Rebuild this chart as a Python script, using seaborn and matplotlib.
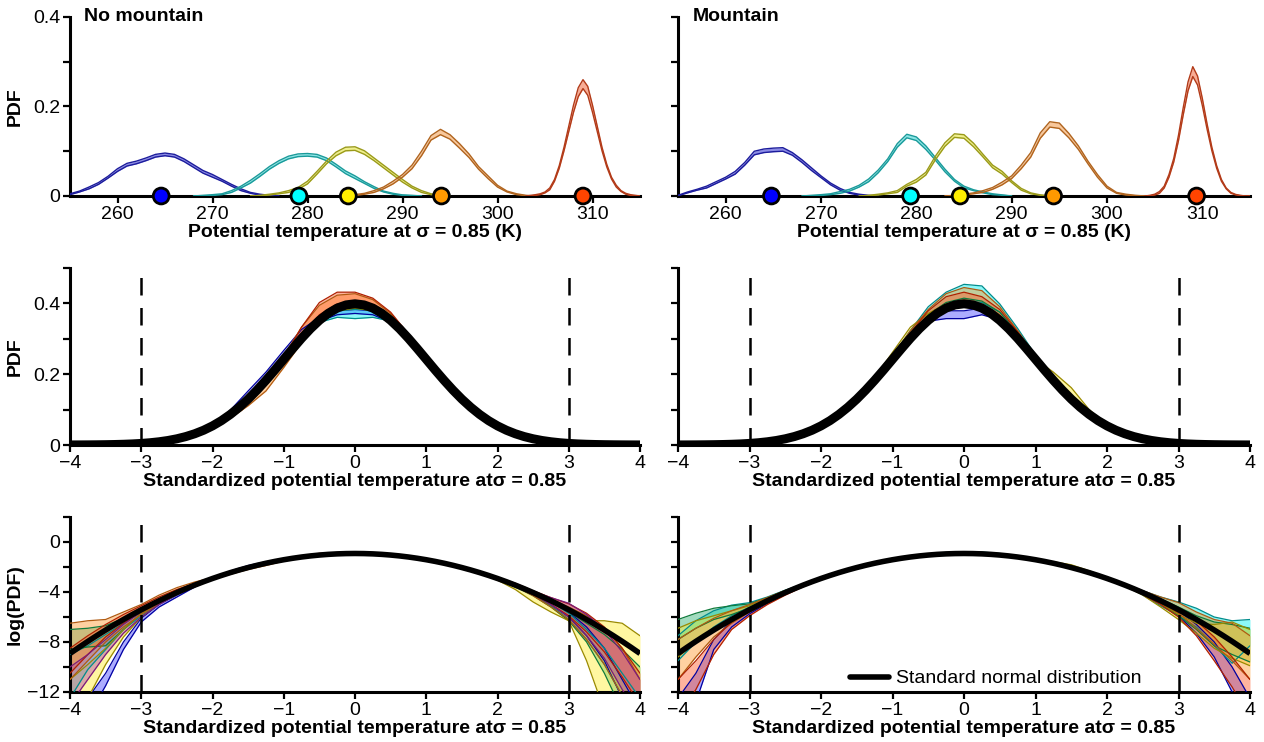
import numpy as np
import pandas as pd
import matplotlib
matplotlib.use("Agg")
import matplotlib.pyplot as plt
from matplotlib.lines import Line2D
import seaborn as sns

sns.set_theme(style="ticks")
plt.rcParams['font.family'] = ['Liberation Sans', 'DejaVu Sans']
plt.rcParams['axes.unicode_minus'] = True
plt.rcParams['text.color'] = 'black'
plt.rcParams['axes.labelcolor'] = 'black'
plt.rcParams['xtick.color'] = 'black'
plt.rcParams['ytick.color'] = 'black'

# ------------------------------------------------------------------ top panels (PDF of theta)
# No mountain
NM_BLUE_T = [255, 256, 257, 258, 259, 260, 261, 262, 263, 264, 265, 266, 267, 268, 269, 270, 271, 272, 273, 274, 275, 276, 277]
NM_BLUE_P = [0.004, 0.010, 0.018, 0.028, 0.042, 0.058, 0.070, 0.075, 0.082, 0.090, 0.093, 0.090, 0.080, 0.067, 0.054, 0.045, 0.035, 0.024, 0.014, 0.007, 0.003, 0.001, 0.0]
NM_BLUE_W = [0.001, 0.001, 0.002, 0.002, 0.002, 0.003, 0.003, 0.003, 0.003, 0.003, 0.003, 0.003, 0.003, 0.003, 0.003, 0.003, 0.002, 0.002, 0.002, 0.001, 0.001, 0.0005, 0.0]

NM_CYAN_T = [268, 269, 270, 271, 272, 273, 274, 275, 276, 277, 278, 279, 280, 281, 282, 283, 284, 285, 286, 287, 288, 289, 290, 291, 292]
NM_CYAN_P = [0.0, 0.001, 0.002, 0.004, 0.010, 0.020, 0.032, 0.047, 0.063, 0.076, 0.086, 0.091, 0.092, 0.090, 0.082, 0.068, 0.053, 0.042, 0.030, 0.019, 0.010, 0.005, 0.002, 0.001, 0.0]
NM_CYAN_W = [0.0, 0.0005, 0.001, 0.001, 0.002, 0.002, 0.003, 0.003, 0.003, 0.003, 0.003, 0.003, 0.003, 0.003, 0.003, 0.003, 0.003, 0.003, 0.002, 0.002, 0.001, 0.001, 0.0005, 0.0005, 0.0]

NM_YELL_T = [274, 275, 276, 277, 278, 279, 280, 281, 282, 283, 284, 285, 286, 287, 288, 289, 290, 291, 292, 293, 294, 295]
NM_YELL_P = [0.0, 0.001, 0.003, 0.006, 0.010, 0.017, 0.030, 0.052, 0.075, 0.094, 0.105, 0.106, 0.097, 0.082, 0.066, 0.050, 0.034, 0.020, 0.010, 0.004, 0.001, 0.0]
NM_YELL_W = [0.0, 0.0005, 0.001, 0.001, 0.002, 0.002, 0.003, 0.003, 0.003, 0.004, 0.004, 0.004, 0.004, 0.003, 0.003, 0.003, 0.003, 0.002, 0.002, 0.001, 0.0005, 0.0]

NM_ORAN_T = [284, 285, 286, 287, 288, 289, 290, 291, 292, 293, 294, 295, 296, 297, 298, 299, 300, 301, 302, 303, 304]
NM_ORAN_P = [0.0, 0.002, 0.005, 0.010, 0.018, 0.030, 0.045, 0.065, 0.095, 0.130, 0.143, 0.132, 0.112, 0.090, 0.063, 0.042, 0.022, 0.010, 0.004, 0.001, 0.0]
NM_ORAN_W = [0.0, 0.001, 0.001, 0.002, 0.002, 0.003, 0.003, 0.004, 0.005, 0.005, 0.006, 0.005, 0.005, 0.004, 0.003, 0.003, 0.002, 0.001, 0.001, 0.0005, 0.0]

NM_RED_T = [303, 303.5, 304, 304.5, 305, 305.5, 306, 306.5, 307, 307.5, 308, 308.5, 309, 309.5, 310, 310.5, 311, 311.5, 312, 312.5, 313, 313.5, 314, 314.5, 315]
NM_RED_P = [0.0, 0.001, 0.002, 0.004, 0.008, 0.016, 0.035, 0.065, 0.105, 0.150, 0.195, 0.232, 0.250, 0.235, 0.195, 0.150, 0.105, 0.068, 0.040, 0.022, 0.011, 0.005, 0.002, 0.001, 0.0]
NM_RED_W = [0.0, 0.0005, 0.001, 0.001, 0.001, 0.002, 0.002, 0.003, 0.004, 0.006, 0.008, 0.010, 0.010, 0.010, 0.008, 0.006, 0.004, 0.003, 0.002, 0.002, 0.001, 0.001, 0.001, 0.0005, 0.0]

NM_MEANS = [264.6, 279.1, 284.3, 294.1, 309.0]

# Mountain
MT_BLUE_T = [255, 256, 257, 258, 259, 260, 261, 262, 263, 264, 265, 266, 267, 268, 269, 270, 271, 272, 273, 274, 275, 276]
MT_BLUE_P = [0.001, 0.008, 0.014, 0.020, 0.030, 0.040, 0.052, 0.072, 0.096, 0.101, 0.103, 0.104, 0.094, 0.078, 0.060, 0.043, 0.027, 0.015, 0.007, 0.003, 0.001, 0.0]
MT_BLUE_W = [0.0005, 0.001, 0.001, 0.002, 0.002, 0.002, 0.003, 0.003, 0.004, 0.004, 0.004, 0.004, 0.003, 0.003, 0.003, 0.002, 0.002, 0.002, 0.001, 0.001, 0.0005, 0.0]

MT_CYAN_T = [268, 269, 270, 271, 272, 273, 274, 275, 276, 277, 278, 279, 280, 281, 282, 283, 284, 285, 286, 287, 288, 289, 290]
MT_CYAN_P = [0.0, 0.001, 0.002, 0.004, 0.008, 0.013, 0.022, 0.035, 0.055, 0.080, 0.113, 0.134, 0.128, 0.108, 0.083, 0.057, 0.035, 0.020, 0.013, 0.008, 0.004, 0.002, 0.0]
MT_CYAN_W = [0.0, 0.0005, 0.001, 0.001, 0.002, 0.002, 0.002, 0.003, 0.003, 0.003, 0.004, 0.004, 0.004, 0.004, 0.003, 0.003, 0.002, 0.002, 0.001, 0.001, 0.001, 0.0005, 0.0]

MT_YELL_T = [274, 275, 276, 277, 278, 279, 280, 281, 282, 283, 284, 285, 286, 287, 288, 289, 290, 291, 292, 293, 294]
MT_YELL_P = [0.0, 0.001, 0.003, 0.006, 0.010, 0.024, 0.034, 0.050, 0.085, 0.115, 0.135, 0.133, 0.114, 0.090, 0.066, 0.052, 0.032, 0.015, 0.006, 0.002, 0.0]
MT_YELL_W = [0.0, 0.0005, 0.001, 0.001, 0.002, 0.002, 0.003, 0.003, 0.004, 0.004, 0.004, 0.004, 0.004, 0.003, 0.003, 0.003, 0.002, 0.002, 0.001, 0.0005, 0.0]

MT_ORAN_T = [283, 284, 285, 286, 287, 288, 289, 290, 291, 292, 293, 294, 295, 296, 297, 298, 299, 300, 301, 302, 303, 304]
MT_ORAN_P = [0.0, 0.001, 0.003, 0.006, 0.010, 0.017, 0.028, 0.042, 0.065, 0.092, 0.135, 0.160, 0.157, 0.135, 0.108, 0.075, 0.045, 0.020, 0.007, 0.003, 0.001, 0.0]
MT_ORAN_W = [0.0, 0.0005, 0.001, 0.001, 0.002, 0.002, 0.003, 0.003, 0.004, 0.005, 0.006, 0.006, 0.006, 0.005, 0.004, 0.003, 0.003, 0.002, 0.001, 0.001, 0.0005, 0.0]

MT_RED_T = [304, 304.5, 305, 305.5, 306, 306.5, 307, 307.5, 308, 308.5, 309, 309.5, 310, 310.5, 311, 311.5, 312, 312.5, 313, 313.5, 314, 314.5, 315]
MT_RED_P = [0.0, 0.001, 0.003, 0.008, 0.020, 0.045, 0.080, 0.130, 0.190, 0.245, 0.278, 0.258, 0.210, 0.155, 0.105, 0.065, 0.035, 0.017, 0.007, 0.003, 0.001, 0.0, 0.0]
MT_RED_W = [0.0, 0.0005, 0.001, 0.002, 0.002, 0.003, 0.004, 0.006, 0.008, 0.010, 0.011, 0.010, 0.008, 0.006, 0.004, 0.003, 0.002, 0.001, 0.001, 0.0005, 0.0005, 0.0, 0.0]

MT_MEANS = [264.8, 279.4, 284.6, 294.4, 309.4]

TOP_LINE = ['#1c1c9c', '#1a9a9a', '#9a9a1a', '#b0641e', '#b23a18']
TOP_FILL = ['#8c8ce6', '#8ce6e6', '#f0f08c', '#f8c89c', '#f8ac94']
DOT_COL = ['#0000ff', '#00ffff', '#ffee00', '#ff9900', '#ff4400']

# ------------------------------------------------------------------ standard normal reference (natural log of PDF)
Z_FINE = [-4.0, -3.875, -3.75, -3.625, -3.5, -3.375, -3.25, -3.125, -3.0, -2.875, -2.75, -2.625, -2.5, -2.375, -2.25, -2.125,
          -2.0, -1.875, -1.75, -1.625, -1.5, -1.375, -1.25, -1.125, -1.0, -0.875, -0.75, -0.625, -0.5, -0.375, -0.25, -0.125,
          0.0, 0.125, 0.25, 0.375, 0.5, 0.625, 0.75, 0.875, 1.0, 1.125, 1.25, 1.375, 1.5, 1.625, 1.75, 1.875,
          2.0, 2.125, 2.25, 2.375, 2.5, 2.625, 2.75, 2.875, 3.0, 3.125, 3.25, 3.375, 3.5, 3.625, 3.75, 3.875, 4.0]
NORMAL_LN = [-8.919, -8.427, -7.950, -7.489, -7.044, -6.614, -6.200, -5.802, -5.419, -5.052, -4.700, -4.364, -4.044, -3.739, -3.450, -3.177,
             -2.919, -2.677, -2.450, -2.239, -2.044, -1.864, -1.700, -1.552, -1.419, -1.302, -1.200, -1.114, -1.044, -0.989, -0.950, -0.927,
             -0.919, -0.927, -0.950, -0.989, -1.044, -1.114, -1.200, -1.302, -1.419, -1.552, -1.700, -1.864, -2.044, -2.239, -2.450, -2.677,
             -2.919, -3.177, -3.450, -3.739, -4.044, -4.364, -4.700, -5.052, -5.419, -5.802, -6.200, -6.614, -7.044, -7.489, -7.950, -8.427, -8.919]

# ------------------------------------------------------------------ standardized model bands (natural log of PDF)
Z = [-4.0, -3.75, -3.5, -3.25, -3.0, -2.75, -2.5, -2.25, -2.0, -1.75, -1.5, -1.25, -1.0, -0.75, -0.5, -0.25,
     0.0, 0.25, 0.5, 0.75, 1.0, 1.25, 1.5, 1.75, 2.0, 2.25, 2.5, 2.75, 3.0, 3.25, 3.5, 3.75, 4.0]

# No mountain bands (lower, upper)
NM_B_LO = [-16, -14, -11.5, -8.6, -6.4, -5.2, -4.4, -3.6, -2.95, -2.40, -1.98, -1.66, -1.38, -1.16, -1.05, -1.00, -0.99, -1.00, -1.06, -1.22, -1.45, -1.73, -2.08, -2.48, -2.95, -3.50, -4.15, -5.0, -6.0, -7.5, -9.5, -12.5, -15]
NM_B_HI = [-14, -12.5, -10.5, -8.0, -6.1, -5.0, -4.25, -3.5, -2.88, -2.32, -1.88, -1.58, -1.32, -1.12, -1.02, -0.97, -0.96, -0.97, -1.03, -1.19, -1.42, -1.70, -2.05, -2.45, -2.92, -3.45, -4.05, -4.8, -5.6, -6.8, -8.5, -11, -13.5]
NM_C_LO = [-12.5, -10.2, -8.6, -7.0, -5.9, -4.95, -4.2, -3.55, -2.95, -2.42, -2.0, -1.68, -1.42, -1.19, -1.06, -1.02, -1.03, -1.02, -1.05, -1.20, -1.42, -1.70, -2.04, -2.46, -2.95, -3.5, -4.2, -5.1, -6.2, -7.8, -9.8, -12.3, -15]
NM_C_HI = [-9.0, -8.3, -7.4, -6.5, -5.6, -4.8, -4.1, -3.45, -2.9, -2.40, -1.98, -1.66, -1.40, -1.16, -1.02, -0.97, -0.96, -0.96, -1.02, -1.17, -1.40, -1.68, -2.02, -2.43, -2.90, -3.42, -4.0, -4.8, -5.7, -7.0, -8.5, -10.5, -12.5]
NM_G_LO = [-8.6, -8.4, -8.3, -7.0, -5.7, -4.8, -4.1, -3.5, -2.93, -2.45, -2.03, -1.70, -1.42, -1.19, -1.04, -0.97, -0.95, -0.97, -1.04, -1.20, -1.43, -1.72, -2.07, -2.50, -3.0, -3.6, -4.3, -5.2, -6.3, -8.0, -10.5, -13.5, -16]
NM_G_HI = [-7.0, -6.9, -6.7, -6.1, -5.3, -4.6, -3.95, -3.4, -2.88, -2.40, -1.99, -1.67, -1.39, -1.16, -1.01, -0.94, -0.92, -0.94, -1.01, -1.17, -1.40, -1.68, -2.02, -2.42, -2.90, -3.4, -4.0, -4.75, -5.6, -6.5, -7.4, -8.6, -10]
NM_Y_LO = [-15, -12.5, -9.8, -7.6, -6.0, -4.95, -4.2, -3.55, -2.96, -2.46, -2.04, -1.72, -1.44, -1.20, -1.04, -0.97, -0.95, -0.97, -1.04, -1.21, -1.44, -1.74, -2.10, -2.55, -3.05, -3.8, -4.8, -5.6, -6.3, -9.5, -13.5, -16, -16]
NM_Y_HI = [-11, -9.8, -8.5, -7.0, -5.7, -4.75, -4.05, -3.45, -2.90, -2.42, -2.00, -1.68, -1.40, -1.17, -1.01, -0.94, -0.92, -0.94, -1.00, -1.17, -1.40, -1.68, -2.03, -2.44, -2.90, -3.45, -4.1, -4.8, -5.5, -6.3, -6.3, -6.5, -7.5]
NM_O_LO = [-11, -9.5, -8.0, -6.8, -5.8, -4.9, -4.15, -3.55, -3.0, -2.58, -2.20, -1.88, -1.52, -1.24, -1.05, -0.96, -0.94, -0.96, -1.04, -1.21, -1.44, -1.72, -2.07, -2.48, -2.95, -3.55, -4.3, -5.2, -6.2, -7.8, -9.8, -12.3, -15]
NM_O_HI = [-6.5, -6.3, -6.2, -5.6, -5.0, -4.25, -3.65, -3.2, -2.85, -2.42, -2.00, -1.70, -1.38, -1.10, -0.93, -0.86, -0.85, -0.89, -0.99, -1.16, -1.40, -1.68, -2.01, -2.40, -2.85, -3.35, -3.95, -4.55, -5.2, -5.9, -6.9, -8.5, -11]
NM_R_LO = [-10.5, -9.0, -7.6, -6.5, -5.6, -4.8, -4.1, -3.5, -2.95, -2.48, -2.08, -1.78, -1.45, -1.18, -1.0, -0.92, -0.90, -0.93, -1.02, -1.20, -1.44, -1.73, -2.08, -2.50, -2.98, -3.55, -4.2, -5.0, -5.9, -7.2, -8.8, -10.8, -13]
NM_R_HI = [-8.5, -7.5, -6.6, -5.8, -5.1, -4.4, -3.8, -3.3, -2.88, -2.44, -2.03, -1.72, -1.40, -1.10, -0.91, -0.84, -0.84, -0.88, -0.98, -1.16, -1.40, -1.69, -2.02, -2.40, -2.82, -3.3, -3.9, -4.45, -4.95, -5.7, -6.8, -8.5, -10.5]
NM_P_LO = [-13, -11, -9.0, -7.3, -6.0, -5.0, -4.2, -3.55, -2.96, -2.46, -2.04, -1.71, -1.43, -1.20, -1.04, -0.96, -0.94, -0.96, -1.04, -1.20, -1.43, -1.71, -2.06, -2.47, -2.94, -3.5, -4.15, -5.0, -6.0, -7.5, -9.3, -11.8, -14]
NM_P_HI = [-10, -9.0, -7.8, -6.6, -5.6, -4.75, -4.05, -3.45, -2.90, -2.42, -2.00, -1.68, -1.40, -1.17, -1.01, -0.94, -0.92, -0.94, -1.01, -1.17, -1.40, -1.68, -2.02, -2.42, -2.88, -3.38, -3.95, -4.45, -4.9, -5.8, -7.0, -8.8, -11]

# Mountain bands (lower, upper)
MT_B_LO = [-16, -12.8, -8.6, -6.8, -5.75, -4.9, -4.2, -3.55, -2.98, -2.48, -2.06, -1.72, -1.43, -1.19, -1.05, -1.03, -1.03, -1.0, -1.04, -1.19, -1.42, -1.71, -2.06, -2.48, -2.96, -3.5, -4.15, -4.95, -5.9, -7.3, -9.2, -12, -15]
MT_B_HI = [-12.5, -10.5, -7.8, -6.3, -5.5, -4.75, -4.1, -3.48, -2.93, -2.44, -2.02, -1.69, -1.40, -1.16, -1.02, -0.97, -0.97, -0.95, -1.02, -1.16, -1.40, -1.68, -2.03, -2.44, -2.92, -3.45, -4.05, -4.75, -5.5, -6.6, -8.0, -10.0, -12.5]
MT_C_LO = [-9.5, -8.0, -6.8, -5.9, -5.2, -4.55, -3.95, -3.42, -2.92, -2.45, -2.05, -1.72, -1.42, -1.18, -1.02, -0.93, -0.90, -0.91, -0.98, -1.15, -1.40, -1.75, -2.15, -2.55, -3.0, -3.5, -4.25, -5.1, -5.9, -6.8, -8.3, -9.7, -8.3]
MT_C_HI = [-7.5, -6.3, -5.5, -5.05, -4.85, -4.4, -3.85, -3.35, -2.86, -2.40, -2.00, -1.68, -1.38, -1.13, -0.94, -0.84, -0.79, -0.80, -0.92, -1.11, -1.37, -1.68, -2.04, -2.43, -2.86, -3.35, -3.9, -4.4, -4.8, -5.3, -6.0, -6.3, -6.2]
MT_G_LO = [-7.8, -6.9, -6.2, -5.8, -5.3, -4.6, -3.98, -3.45, -2.93, -2.46, -2.05, -1.73, -1.44, -1.19, -1.03, -0.95, -0.92, -0.94, -1.02, -1.19, -1.43, -1.72, -2.07, -2.48, -2.96, -3.5, -4.1, -4.9, -5.9, -7.0, -8.3, -9.0, -9.6]
MT_G_HI = [-6.2, -5.7, -5.3, -5.1, -4.95, -4.45, -3.88, -3.38, -2.88, -2.42, -2.01, -1.69, -1.40, -1.16, -1.0, -0.91, -0.88, -0.90, -0.98, -1.15, -1.39, -1.68, -2.02, -2.42, -2.88, -3.4, -3.95, -4.55, -5.2, -5.9, -6.4, -6.6, -6.9]
MT_Y_LO = [-9.2, -8.0, -6.9, -6.1, -5.45, -4.7, -4.05, -3.48, -2.95, -2.46, -2.04, -1.71, -1.42, -1.18, -1.03, -0.96, -0.94, -0.97, -1.06, -1.24, -1.46, -1.70, -2.00, -2.43, -2.93, -3.5, -4.25, -5.2, -6.2, -7.3, -8.5, -9.3, -9.9]
MT_Y_HI = [-6.9, -6.3, -5.9, -5.5, -5.1, -4.5, -3.92, -3.4, -2.9, -2.42, -2.0, -1.66, -1.34, -1.10, -0.99, -0.92, -0.90, -0.93, -1.02, -1.20, -1.42, -1.58, -1.82, -2.30, -2.86, -3.45, -4.1, -4.95, -5.8, -6.5, -6.6, -6.4, -7.0]
MT_O_LO = [-11, -9.2, -7.6, -6.5, -5.6, -4.85, -4.15, -3.52, -2.97, -2.48, -2.06, -1.73, -1.44, -1.20, -1.03, -0.94, -0.90, -0.92, -1.00, -1.18, -1.42, -1.72, -2.07, -2.48, -2.96, -3.48, -4.1, -4.85, -5.7, -6.9, -8.2, -9.5, -11]
MT_O_HI = [-7.8, -6.9, -6.1, -5.5, -5.0, -4.45, -3.88, -3.38, -2.88, -2.42, -2.0, -1.68, -1.38, -1.13, -0.96, -0.85, -0.81, -0.83, -0.94, -1.13, -1.38, -1.66, -2.0, -2.40, -2.85, -3.35, -3.9, -4.4, -4.85, -5.6, -6.2, -6.5, -7.5]
MT_R_LO = [-14, -11.8, -9.0, -7.0, -5.9, -5.0, -4.25, -3.58, -3.0, -2.52, -2.1, -1.76, -1.46, -1.20, -1.03, -0.94, -0.91, -0.93, -1.02, -1.20, -1.44, -1.73, -2.08, -2.50, -2.98, -3.55, -4.2, -5.0, -6.0, -7.5, -9.5, -11.6, -14]
MT_R_HI = [-11, -9.5, -7.8, -6.4, -5.5, -4.75, -4.05, -3.45, -2.92, -2.44, -2.03, -1.70, -1.40, -1.15, -0.97, -0.87, -0.84, -0.87, -0.96, -1.14, -1.39, -1.68, -2.03, -2.44, -2.91, -3.42, -4.0, -4.65, -5.3, -6.3, -7.6, -9.2, -11]

BAND_FILL = ['#4848ff', '#00f0f0', '#30b070', '#ffee30', '#ff9a30', '#ff5a28', '#b048b0']
BAND_EDGE = ['#0000a0', '#008c8c', '#0f7a3c', '#9a8a00', '#b05a10', '#b02000', '#7a1a7a']

NM_TOP = [(NM_BLUE_T, NM_BLUE_P, NM_BLUE_W), (NM_CYAN_T, NM_CYAN_P, NM_CYAN_W), (NM_YELL_T, NM_YELL_P, NM_YELL_W),
          (NM_ORAN_T, NM_ORAN_P, NM_ORAN_W), (NM_RED_T, NM_RED_P, NM_RED_W)]
MT_TOP = [(MT_BLUE_T, MT_BLUE_P, MT_BLUE_W), (MT_CYAN_T, MT_CYAN_P, MT_CYAN_W), (MT_YELL_T, MT_YELL_P, MT_YELL_W),
          (MT_ORAN_T, MT_ORAN_P, MT_ORAN_W), (MT_RED_T, MT_RED_P, MT_RED_W)]
NM_BANDS = [(NM_B_LO, NM_B_HI), (NM_C_LO, NM_C_HI), (NM_G_LO, NM_G_HI), (NM_Y_LO, NM_Y_HI),
            (NM_O_LO, NM_O_HI), (NM_R_LO, NM_R_HI), (NM_P_LO, NM_P_HI)]
MT_BANDS = [(MT_B_LO, MT_B_HI), (MT_C_LO, MT_C_HI), (MT_G_LO, MT_G_HI), (MT_Y_LO, MT_Y_HI),
            (MT_O_LO, MT_O_HI), (MT_R_LO, MT_R_HI)]

TXT = 14
TICK = 14
W, H = 1264, 742
fig = plt.figure(figsize=(W / 100, H / 100), dpi=100)


def rect(x0, x1, ytop, ybot):
    return [x0 / W, 1 - ybot / H, (x1 - x0) / W, (ybot - ytop) / H]


cols = [(70, 640), (678, 1250)]
rows = [(17, 196), (268, 445), (517, 692)]
axes = [[fig.add_axes(rect(c[0], c[1], r[0], r[1])) for c in cols] for r in rows]


def style(ax):
    sns.despine(ax=ax)
    for s in ('left', 'bottom'):
        ax.spines[s].set_linewidth(2.2)
        ax.spines[s].set_color('black')
    ax.tick_params(direction='out', length=5, width=1.6, colors='black', labelsize=TICK, pad=2)
    ax.set_facecolor('white')


MINUS = '\u2212'
xl_top = 'Potential temperature at \u03c3 = 0.85 (K)'
xl_std = 'Standardized potential temperature at\u03c3 = 0.85'

# --- top row
for j, (data, means, title) in enumerate([(NM_TOP, NM_MEANS, 'No mountain'), (MT_TOP, MT_MEANS, 'Mountain')]):
    ax = axes[0][j]
    for k, (t, p, w) in enumerate(data):
        t = np.array(t); p = np.array(p); w = np.array(w)
        ax.fill_between(t, p - w, p + w, color=TOP_FILL[k], lw=0, zorder=2)
        sns.lineplot(x=t, y=p - w, ax=ax, color=TOP_LINE[k], lw=1.0, estimator=None, zorder=3)
        sns.lineplot(x=t, y=p + w, ax=ax, color=TOP_LINE[k], lw=1.0, estimator=None, zorder=3)
    ax.scatter(means, [0] * len(means), s=130, c=DOT_COL, edgecolors='black', linewidths=2.0,
               zorder=10, clip_on=False)
    ax.set_xlim(255, 315)
    ax.set_ylim(0, 0.4)
    ax.set_xticks([260, 270, 280, 290, 300, 310])
    ax.set_yticks([0, 0.1, 0.2, 0.3, 0.4])
    style(ax)
    if j == 0:
        ax.set_yticklabels(['0', '', '0.2', '', '0.4'])
        ax.set_ylabel('PDF', fontsize=TXT, fontweight='bold')
        ax.yaxis.set_label_coords(-0.082, 0.5)
    else:
        ax.set_yticklabels([])
    ax.set_xlabel(xl_top, fontsize=TXT, fontweight='bold', labelpad=1)
    ax.text(0.025, 1.0, title, transform=ax.transAxes, fontsize=TXT, fontweight='bold', va='center', ha='left')

# --- middle and bottom rows
zz = np.array(Z)
zf = np.array(Z_FINE)
nl = np.array(NORMAL_LN)
for j, bands in enumerate([NM_BANDS, MT_BANDS]):
    axm = axes[1][j]
    axb = axes[2][j]
    for k, (lo, hi) in enumerate(bands):
        lo = np.array(lo); hi = np.array(hi)
        for ax, f in ((axm, np.exp), (axb, lambda v: v)):
            ax.fill_between(zz, f(lo), f(hi), color=BAND_FILL[k], alpha=0.45, lw=0, zorder=2)
            sns.lineplot(x=zz, y=f(lo), ax=ax, color=BAND_EDGE[k], lw=0.9, estimator=None, zorder=3)
            sns.lineplot(x=zz, y=f(hi), ax=ax, color=BAND_EDGE[k], lw=0.9, estimator=None, zorder=3)
    sns.lineplot(x=zf, y=np.exp(nl), ax=axm, color='black', lw=6.5, estimator=None, zorder=5,
                 solid_joinstyle='round', solid_capstyle='butt')
    sns.lineplot(x=zf, y=nl, ax=axb, color='black', lw=4.0, estimator=None, zorder=5,
                 solid_joinstyle='round', solid_capstyle='butt')
    for ax in (axm, axb):
        for xv in (-3, 3):
            ax.axvline(xv, color='black', lw=1.8, dashes=(7, 5), zorder=6)
        ax.set_xlim(-4, 4)
        ax.set_xticks([-4, -3, -2, -1, 0, 1, 2, 3, 4])
        ax.set_xticklabels([MINUS + '4', MINUS + '3', MINUS + '2', MINUS + '1', '0', '1', '2', '3', '4'])
        style(ax)
        ax.set_xlabel(xl_std, fontsize=TXT, fontweight='bold', labelpad=1)
    axm.set_ylim(0, 0.5)
    axm.set_yticks([0, 0.1, 0.2, 0.3, 0.4, 0.5])
    axb.set_ylim(-12, 2)
    axb.set_yticks([2, 0, -2, -4, -6, -8, -10, -12])
    if j == 0:
        axm.set_yticklabels(['0', '', '0.2', '', '0.4', ''])
        axm.set_ylabel('PDF', fontsize=TXT, fontweight='bold')
        axm.yaxis.set_label_coords(-0.082, 0.5)
        axb.set_yticklabels(['', '0', '', MINUS + '4', '', MINUS + '8', '', MINUS + '12'])
        axb.set_ylabel('log(PDF)', fontsize=TXT, fontweight='bold')
        axb.yaxis.set_label_coords(-0.082, 0.5)
    else:
        axm.set_yticklabels([])
        axb.set_yticklabels([])

h = Line2D([], [], color='black', lw=4.0)
axes[2][1].legend([h], ['Standard normal distribution'], loc='lower left', bbox_to_anchor=(0.28, -0.04),
                  frameon=False, fontsize=TXT, handlelength=2.0, handletextpad=0.4, borderaxespad=0.2)

fig.savefig('out.png', dpi=100, facecolor='white')
